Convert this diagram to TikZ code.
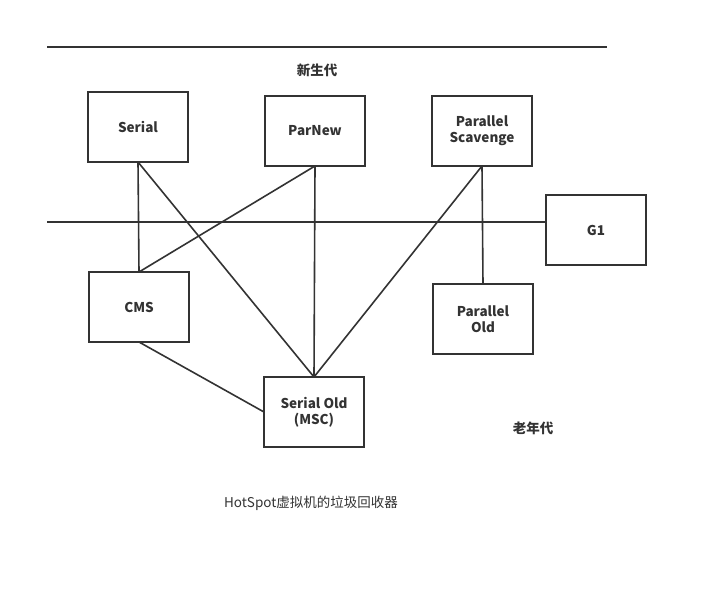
\documentclass[tikz,border=0pt]{standalone}
\usepackage{fontspec}
\setmainfont{Noto Sans CJK SC}
\begin{document}
\begin{tikzpicture}[x=1pt,y=-1pt,
  ln/.style={draw=black!80, line width=1.6pt},
  gc/.style={ln, minimum width=100pt, minimum height=70pt, inner sep=0pt, outer sep=0pt,
    align=center, font=\fontsize{13.5pt}{16pt}\selectfont\bfseries, text=black!80},
  lbl/.style={font=\fontsize{13.5pt}{16pt}\selectfont\bfseries, text=black!80}]
\useasboundingbox (0,0) rectangle (707,593);
\fill[white] (0,0) rectangle (707,593);
% generation dividers
\coordinate (t0) at (47,47);
\coordinate (t1) at (607,47);
\coordinate (m0) at (47,222);
\draw[ln] (t0) -- (t1);
% collectors
\node[gc] (serial) at (138,127) {Serial};
\node[gc] (parnew) at (315,131) {ParNew};
\node[gc] (ps) at (482,131) {Parallel\\Scavenge};
\node[gc] (g1) at (596,230) {G1};
\node[gc] (cms) at (139,307) {CMS};
\node[gc] (pold) at (483,319) {Parallel\\Old};
\node[gc] (sold) at (314,412) {Serial Old\\(MSC)};
\draw[ln] (m0) -- (g1.west |- m0);
% combinations
\draw[ln] (serial.south) -- (cms.north);
\draw[ln] (serial.south) -- (sold.north);
\draw[ln] (parnew.south) -- (cms.north);
\draw[ln] (parnew.south) -- (sold.north);
\draw[ln] (ps.south) -- (sold.north);
\draw[ln] (ps.south) -- (pold.north);
\draw[ln] (cms.south) -- (sold.west);
% labels
\node[lbl] (young) at (317,70) {新生代};
\node[lbl] (old) at (533,428) {老年代};
\node[font=\fontsize{13.5pt}{16pt}\selectfont, text=black!80] (title) at (311,503) {HotSpot虚拟机的垃圾回收器};
\end{tikzpicture}
\end{document}
